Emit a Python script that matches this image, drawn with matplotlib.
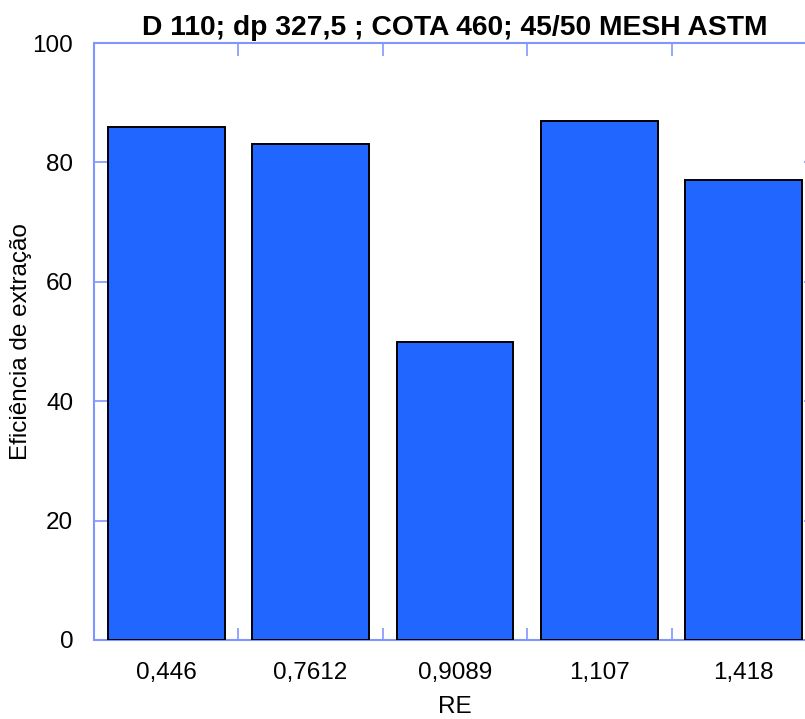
import numpy as np
import matplotlib
matplotlib.use("Agg")
import matplotlib.pyplot as plt
from matplotlib.ticker import FixedLocator

# data
categories = ["0,446", "0,7612", "0,9089", "1,107", "1,418"]
efficiency = [86, 83, 50, 87, 77]
y_ticks = [0, 20, 40, 60, 80, 100]

title = "D 110; dp 327,5 ; COTA 460; 45/50 MESH ASTM"
x_label = "RE"
y_label = "Eficiência de extração"

plt.rcParams["font.family"] = ["Liberation Sans", "DejaVu Sans"]

bar_color = "#2166ff"
axis_color = "#8096ff"
fs = 17.5

fig = plt.figure(figsize=(8.05, 7.19), dpi=100)
ax = fig.add_axes([94 / 805, 79 / 719, 722 / 805, 597 / 719])

x = np.arange(len(categories))
ax.bar(x, efficiency, width=0.81, color=bar_color, edgecolor="black", linewidth=1.4, zorder=3)

ax.set_xlim(-0.5, len(categories) - 0.5)
ax.set_ylim(0, 100)

# category labels, with small ticks between the bars
ax.set_xticks(x)
ax.set_xticklabels(categories)
ax.xaxis.set_minor_locator(FixedLocator(x[:-1] + 0.5))
ax.tick_params(axis="x", which="major", length=0, pad=16, labelsize=fs)
ax.tick_params(axis="x", which="minor", direction="in", length=9, width=1.2,
               color=axis_color, top=True, bottom=True)

ax.set_yticks(y_ticks)
ax.tick_params(axis="y", direction="in", length=9, width=1.2, color=axis_color,
               left=True, right=True, pad=15, labelsize=fs)

for sp in ax.spines.values():
    sp.set_color(axis_color)
    sp.set_linewidth(1.5)

ax.set_xlabel(x_label, fontsize=fs, labelpad=8.5)
ax.set_ylabel(y_label, fontsize=fs, labelpad=0)
ax.set_title(title, fontsize=20.3, fontweight="bold", pad=5.5)

fig.savefig("out.png", dpi=100)
